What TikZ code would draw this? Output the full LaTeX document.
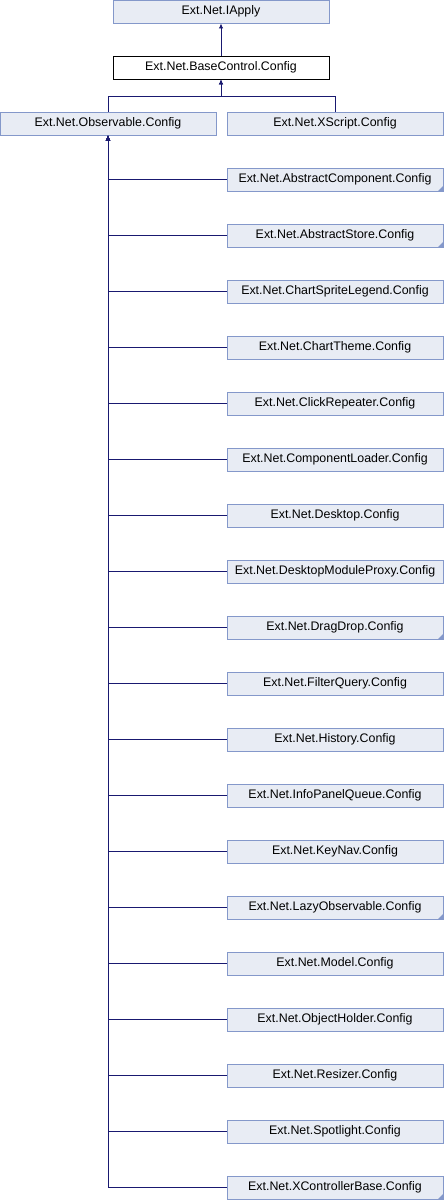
\documentclass[tikz,border=0pt]{standalone}
\usepackage{fontspec}
\setmainfont{Liberation Sans}
\usepackage{xcolor}
\usetikzlibrary{arrows.meta,positioning}

\definecolor{boxfill}{RGB}{232,236,244}
\definecolor{boxline}{RGB}{132,152,202}
\definecolor{edgeblue}{RGB}{25,25,112}

\begin{document}
\begin{tikzpicture}[
    x=1pt, y=-1pt,
    every node/.style={font=\fontsize{12.4}{14}\selectfont},
    cls/.style={rectangle, draw=boxline, fill=boxfill, line width=0.9pt, minimum width=216pt, minimum height=23pt, inner sep=0pt},
    current/.style={rectangle, draw=black, fill=white, line width=0.9pt, minimum width=216pt, minimum height=23pt, inner sep=0pt},
    more/.style={cls, path picture={\fill[boxline] (path picture bounding box.south east) -- ++(-5pt,0pt) -- ++(5pt,5pt) -- cycle;}},
    arrow/.style={-{Latex[length=5pt,width=4.5pt]}, edgeblue, line width=0.9pt}
]
\useasboundingbox (0,0) rectangle (444,1200);

% top of the hierarchy
\node[cls] (iapply) at (221,11.5) {Ext.Net.IApply};
\node[current] (basecontrol) at (221,67.5) {Ext.Net.BaseControl.Config};

% direct children
\node[cls] (observable) at (108,123.5) {Ext.Net.Observable.Config};
\node[cls] (xscript) at (335,123.5) {Ext.Net.XScript.Config};

% children of Observable
\node[more] (abstractcomponent) at (335,179.5) {Ext.Net.AbstractComponent.Config};
\node[more] (abstractstore) at (335,235.5) {Ext.Net.AbstractStore.Config};
\node[cls] (chartspritelegend) at (335,291.5) {Ext.Net.ChartSpriteLegend.Config};
\node[cls] (charttheme) at (335,347.5) {Ext.Net.ChartTheme.Config};
\node[cls] (clickrepeater) at (335,403.5) {Ext.Net.ClickRepeater.Config};
\node[cls] (componentloader) at (335,459.5) {Ext.Net.ComponentLoader.Config};
\node[cls] (desktop) at (335,515.5) {Ext.Net.Desktop.Config};
\node[cls] (desktopmoduleproxy) at (335,571.5) {Ext.Net.DesktopModuleProxy.Config};
\node[more] (dragdrop) at (335,627.5) {Ext.Net.DragDrop.Config};
\node[cls] (filterquery) at (335,683.5) {Ext.Net.FilterQuery.Config};
\node[cls] (history) at (335,739.5) {Ext.Net.History.Config};
\node[cls] (infopanelqueue) at (335,795.5) {Ext.Net.InfoPanelQueue.Config};
\node[cls] (keynav) at (335,851.5) {Ext.Net.KeyNav.Config};
\node[more] (lazyobservable) at (335,907.5) {Ext.Net.LazyObservable.Config};
\node[cls] (model) at (335,963.5) {Ext.Net.Model.Config};
\node[cls] (objectholder) at (335,1019.5) {Ext.Net.ObjectHolder.Config};
\node[cls] (resizer) at (335,1075.5) {Ext.Net.Resizer.Config};
\node[cls] (spotlight) at (335,1131.5) {Ext.Net.Spotlight.Config};
\node[more] (xcontrollerbase) at (335,1187.5) {Ext.Net.XControllerBase.Config};

% inheritance
\draw[arrow] (basecontrol) -- (iapply);
\coordinate (split) at (221,96);
\draw[arrow] (observable.north) |- (split) -- (basecontrol.south);
\draw[arrow] (xscript.north) |- (split) -- (basecontrol.south);

\draw[arrow] (abstractcomponent.west) -| (observable.south);
\draw[arrow] (abstractstore.west) -| (observable.south);
\draw[arrow] (chartspritelegend.west) -| (observable.south);
\draw[arrow] (charttheme.west) -| (observable.south);
\draw[arrow] (clickrepeater.west) -| (observable.south);
\draw[arrow] (componentloader.west) -| (observable.south);
\draw[arrow] (desktop.west) -| (observable.south);
\draw[arrow] (desktopmoduleproxy.west) -| (observable.south);
\draw[arrow] (dragdrop.west) -| (observable.south);
\draw[arrow] (filterquery.west) -| (observable.south);
\draw[arrow] (history.west) -| (observable.south);
\draw[arrow] (infopanelqueue.west) -| (observable.south);
\draw[arrow] (keynav.west) -| (observable.south);
\draw[arrow] (lazyobservable.west) -| (observable.south);
\draw[arrow] (model.west) -| (observable.south);
\draw[arrow] (objectholder.west) -| (observable.south);
\draw[arrow] (resizer.west) -| (observable.south);
\draw[arrow] (spotlight.west) -| (observable.south);
\draw[arrow] (xcontrollerbase.west) -| (observable.south);

\end{tikzpicture}
\end{document}
